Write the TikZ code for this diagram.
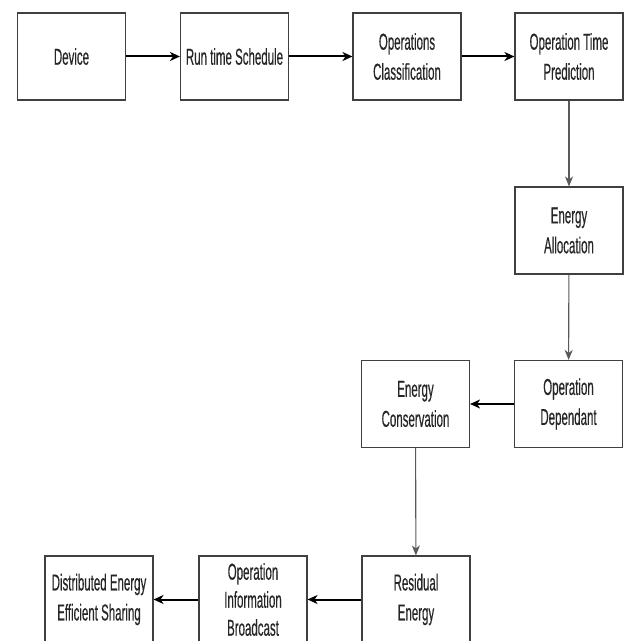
\documentclass[tikz,border=0pt]{standalone}
\usepackage{fontspec}
\setmainfont{Liberation Sans}[FakeStretch=0.5,FakeBold=0.4]
\usetikzlibrary{arrows.meta}
\tikzset{
  box/.style={draw=black!75, line width=1.1bp, minimum width=108bp, minimum height=87bp,
    inner sep=0pt, align=center, text=black!85,
    font=\fontsize{23bp}{30bp}\selectfont},
  tightbox/.style={box, font=\fontsize{23bp}{28bp}\selectfont},
  harrow/.style={draw=black, line width=2bp, -{Stealth[length=10bp,width=9bp,inset=3bp]}},
  varrow/.style={draw=black!65, line width=1.1bp, -{Stealth[length=10bp,width=8bp,inset=3bp]}}
}
\begin{document}
\begin{tikzpicture}[x=1bp,y=-1bp]
\useasboundingbox (0,0) rectangle (627,641);
\clip (0,0) rectangle (627,641);
\node[box] (dev) at (71.5,56.5) {Device};
\node[box] (rts) at (234.5,56.5) {Run time Schedule};
\node[box] (opc) at (407,56.5) {Operations\\Classification};
\node[box] (otp) at (569,56.5) {Operation Time\\Prediction};
\node[box] (ea) at (569,230.5) {Energy\\Allocation};
\node[box] (od) at (568.5,404) {Operation\\Dependant};
\node[box] (ec) at (415.5,404) {Energy\\Conservation};
\node[box] (re) at (416,599.5) {Residual\\Energy};
\node[tightbox] (oib) at (253,599.5) {Operation\\Information\\Broadcast};
\node[box] (dees) at (99,599.5) {Distributed Energy\\Efficient Sharing};
\draw[harrow] (dev) -- (rts);
\draw[harrow] (rts) -- (opc);
\draw[harrow] (opc) -- (otp);
\draw[varrow] (otp) -- (ea);
\draw[varrow] (ea) -- (od);
\draw[harrow] (od) -- (ec);
\draw[varrow] (ec) -- (re);
\draw[harrow] (re) -- (oib);
\draw[harrow] (oib) -- (dees);
\end{tikzpicture}
\end{document}
